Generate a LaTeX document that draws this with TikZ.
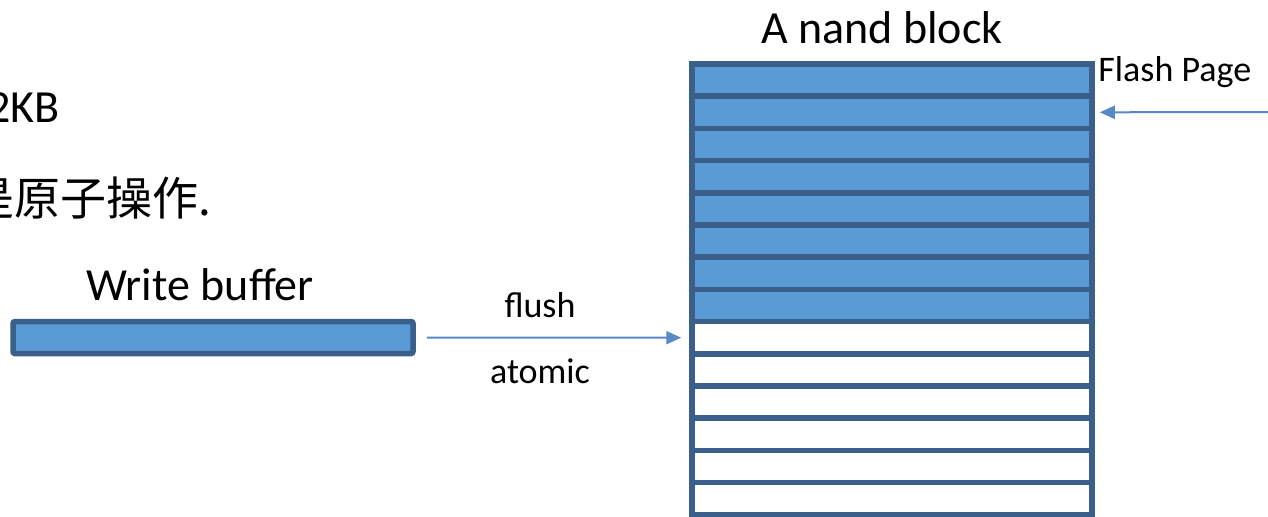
\documentclass[tikz,border=0pt]{standalone}
\usepackage{fontspec}
\setmainfont{Carlito}
\newfontfamily\cjk{Noto Sans CJK SC}
\usetikzlibrary{arrows.meta}

\definecolor{pagefill}{HTML}{5B9BD5}
\definecolor{pageedge}{HTML}{3B5F8B}
\definecolor{arrowblue}{HTML}{5888C8}

\tikzset{
  page/.style={draw=pageedge, line width=2.75pt, minimum width=200pt, minimum height=16.1pt, inner sep=0pt},
  used/.style={page, fill=pagefill},
  free/.style={page, fill=white},
  flow/.style={draw=arrowblue, line width=1pt, -{Triangle[length=7.5pt,width=6.5pt]}},
  big/.style={font=\fontsize{23}{27}\selectfont},
  small/.style={font=\fontsize{18}{22}\selectfont},
}

\begin{document}
\begin{tikzpicture}[x=0.5pt,y=-0.5pt]
  \useasboundingbox (0,0) rectangle (1268,516);

  % Pages of the block: the first 8 are written, the rest are empty
  \foreach \i in {1,...,15} {
    \pgfmathsetmacro{\ypos}{64+32.2*(\i-0.5)}
    \ifnum\i<9
      \node[used] (page\i) at (892,\ypos) {};
    \else
      \node[free] (page\i) at (892,\ypos) {};
    \fi
  }
  \node[big] (blocktitle) at (882,28) {A nand block};
  \node[small, anchor=west, inner sep=0pt] (pagelabel) at (1098,72) {Flash Page};

  % Write buffer
  \node[used, line width=2.75pt, minimum width=200pt, minimum height=16pt, rounded corners=1pt] (buffer) at (213,337.5) {};
  \node[big] (buftitle) at (200,285) {Write buffer};

  % Notes on the left
  \node[big, anchor=east, inner sep=0pt] (sizenote) at (60,108) {2KB};
  \node[big, anchor=east, inner sep=0pt] (atomicnote) at (212,198) {\cjk 是原子操作.};

  % Flush into the next free page
  \draw[flow, shorten <=5.5pt, shorten >=4pt] (buffer.east) -- (page9.west);
  \node[small] (flushlabel) at (540,305) {flush};
  \node[small] (atomiclabel) at (540,371) {atomic};

  % One page of the block
  \coordinate (pagesrc) at (1272,112);
  \draw[flow, shorten >=2.5pt] (pagesrc) -- (page2.east);
\end{tikzpicture}
\end{document}
